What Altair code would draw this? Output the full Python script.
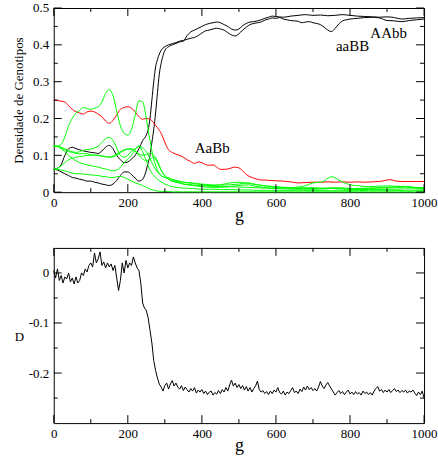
import altair as alt
import pandas as pd

FONT = "Liberation Serif"

# ---------------- top panel: genotype densities ----------------
aaBB_g = [0,10,20,30,40,50,60,70,80,90, 100,110,120,130,140,150,160,170,180,190,
          200,210,220,230,240,250,255,260,265,270, 275,280,285,290,300,310,320,330,340,350,
          360,370,380,390,400,410,420,430,440,450, 460,470,480,490,500,510,520,530,540,550,
          560,570,580,590,600,610,620,630,640,650, 660,670,680,690,700,710,720,730,740,750,
          760,770,780,790,800,820,840,860,880,900, 920,940,960,980,1000]
aaBB_v = [0.0625,0.065,0.075,0.1,0.118,0.122,0.118,0.115,0.112,0.11,
          0.108,0.107,0.105,0.112,0.122,0.127,0.118,0.1,0.088,0.08,
          0.082,0.09,0.1,0.118,0.14,0.155,0.17,0.2,0.25,0.3,
          0.34,0.36,0.375,0.385,0.395,0.4,0.403,0.406,0.41,0.412,
          0.415,0.418,0.42,0.425,0.432,0.438,0.44,0.443,0.445,0.443,
          0.44,0.433,0.427,0.424,0.43,0.44,0.448,0.455,0.458,0.46,
          0.462,0.467,0.47,0.473,0.472,0.474,0.47,0.468,0.466,0.465,
          0.464,0.46,0.462,0.463,0.46,0.458,0.455,0.448,0.44,0.436,
          0.445,0.457,0.465,0.468,0.47,0.472,0.474,0.475,0.473,0.466,
          0.465,0.463,0.466,0.468,0.47]

AAbb_g = [0,10,20,30,40,50,60,70,80,90, 100,110,120,130,140,150,160,170,180,190,
          200,210,220,230,240,250,255,260,265,270, 275,280,285,290,295,300,310,320,330,340,
          350,360,370,380,390,400,410,420,430,440, 450,460,470,480,490,500,510,520,530,540,
          550,560,570,580,590,600,620,640,660,680, 700,720,740,760,780,800,820,840,860,880,
          900,920,940,960,980,1000]
AAbb_v = [0.0625,0.06,0.055,0.05,0.045,0.04,0.038,0.035,0.033,0.03,
          0.03,0.027,0.025,0.022,0.02,0.018,0.022,0.032,0.045,0.055,
          0.055,0.048,0.038,0.03,0.035,0.06,0.08,0.1,0.135,0.17,
          0.215,0.27,0.32,0.35,0.37,0.385,0.395,0.4,0.404,0.408,
          0.41,0.425,0.435,0.44,0.445,0.45,0.455,0.458,0.46,0.462,
          0.46,0.455,0.45,0.443,0.44,0.443,0.452,0.458,0.462,0.463,
          0.465,0.468,0.472,0.475,0.478,0.477,0.475,0.478,0.48,0.482,
          0.48,0.481,0.479,0.48,0.482,0.48,0.478,0.477,0.476,0.475,
          0.476,0.474,0.47,0.472,0.473,0.474]

AaBb_g = [0,10,20,30,40,50,60,70,80,90, 100,110,120,130,140,150,160,170,180,190,
          200,210,220,230,240,250,260,270,280,290, 300,310,320,330,340,350,360,370,380,390,
          400,410,420,430,440,450,460,470,480,490, 500,510,520,530,540,550,560,570,580,600,
          620,640,660,680,700,720,740,760,780,800, 820,840,860,880,900,910,920,940,960,980,
          1000]
AaBb_v = [0.25,0.249,0.247,0.245,0.235,0.225,0.218,0.215,0.212,0.218,
          0.22,0.218,0.212,0.205,0.193,0.187,0.195,0.21,0.225,0.23,
          0.232,0.228,0.218,0.205,0.198,0.2,0.198,0.188,0.175,0.16,
          0.135,0.115,0.108,0.103,0.1,0.095,0.088,0.083,0.078,0.082,
          0.08,0.075,0.073,0.074,0.068,0.062,0.062,0.063,0.066,0.068,
          0.066,0.058,0.048,0.042,0.038,0.035,0.033,0.033,0.032,0.031,
          0.03,0.028,0.025,0.026,0.027,0.027,0.028,0.027,0.028,0.027,
          0.028,0.027,0.028,0.029,0.033,0.034,0.031,0.029,0.029,0.029,
          0.029]

green_g = [0,10,20,30,40,50,60,70,80,90, 100,110,120,130,140,150,160,170,180,190,
           200,210,220,230,240,250,260,270,280,290, 300,310,320,330,340,350,
           375,400,425,450,475,500,525,550,575,600, 625,650,675,700,725,750,775,800,825,850,
           875,900,925,950,975,1000]
green1_v = [0.125,0.125,0.13,0.15,0.18,0.2,0.215,0.222,0.23,0.227,
            0.225,0.228,0.232,0.245,0.268,0.278,0.262,0.22,0.18,0.16,
            0.155,0.17,0.21,0.248,0.245,0.2,0.14,0.09,0.06,0.045,
            0.04,0.036,0.033,0.03,0.028,0.027,
            0.025,0.022,0.02,0.019,0.02,0.022,0.025,0.02,0.017,0.015,
            0.013,0.012,0.012,0.012,0.011,0.012,0.012,0.01,0.01,0.011,
            0.012,0.013,0.015,0.016,0.013,0.012]
green2_v = [0.125,0.125,0.122,0.118,0.113,0.11,0.108,0.11,0.114,0.116,
            0.117,0.12,0.125,0.135,0.145,0.149,0.14,0.12,0.1,0.095,
            0.1,0.112,0.118,0.125,0.12,0.11,0.09,0.07,0.055,0.045,
            0.04,0.04,0.035,0.032,0.03,0.027,
            0.024,0.02,0.018,0.02,0.025,0.027,0.024,0.02,0.016,0.013,
            0.012,0.01,0.01,0.01,0.009,0.01,0.009,0.008,0.009,0.01,
            0.011,0.012,0.012,0.014,0.012,0.01]
green3_v = [0.125,0.124,0.12,0.115,0.11,0.108,0.105,0.104,0.105,0.104,
            0.102,0.1,0.1,0.098,0.096,0.095,0.096,0.1,0.107,0.113,
            0.117,0.118,0.112,0.1,0.09,0.085,0.09,0.095,0.08,0.06,
            0.045,0.035,0.03,0.027,0.025,0.022,
            0.02,0.017,0.016,0.015,0.015,0.014,0.013,0.012,0.011,0.01,
            0.011,0.013,0.016,0.025,0.028,0.042,0.03,0.02,0.017,0.015,
            0.016,0.017,0.016,0.015,0.012,0.01]
green4_v = [0.0625,0.065,0.072,0.08,0.088,0.092,0.095,0.097,0.098,0.1,
            0.1,0.101,0.1,0.098,0.097,0.095,0.098,0.104,0.11,0.115,
            0.117,0.115,0.11,0.104,0.1,0.102,0.106,0.1,0.085,0.06,
            0.045,0.035,0.03,0.027,0.025,0.022,
            0.018,0.015,0.013,0.013,0.015,0.018,0.02,0.015,0.012,0.01,
            0.009,0.008,0.008,0.008,0.009,0.01,0.009,0.008,0.007,0.007,
            0.007,0.008,0.008,0.009,0.009,0.008]
green5_v = [0.125,0.124,0.118,0.11,0.1,0.092,0.085,0.08,0.077,0.074,
            0.072,0.07,0.068,0.065,0.063,0.06,0.058,0.06,0.068,0.08,
            0.09,0.1,0.115,0.125,0.11,0.085,0.06,0.045,0.035,0.028,
            0.022,0.018,0.015,0.013,0.012,0.011,
            0.01,0.008,0.008,0.007,0.007,0.006,0.006,0.005,0.005,0.005,
            0.005,0.005,0.005,0.005,0.004,0.004,0.004,0.004,0.004,0.005,
            0.005,0.005,0.005,0.004,0.004,0.004]
green6_v = [0.0625,0.062,0.06,0.058,0.055,0.052,0.05,0.05,0.049,0.048,
            0.047,0.046,0.045,0.043,0.042,0.04,0.04,0.042,0.043,0.04,
            0.035,0.03,0.025,0.022,0.018,0.013,0.008,0.005,0.003,0.002,
            0.002,0.002,0.001,0.001,0.001,0.001,
            0.001,0.001,0.001,0.001,0.001,0.001,0.001,0.001,0.001,0.001,
            0.001,0.001,0.001,0.001,0.001,0.001,0.001,0.001,0.001,0.001,
            0.001,0.001,0.001,0.001,0.001,0.001]

label_names = ["AAbb", "aaBB", "AaBb"]
label_g = [855, 762, 381]
label_v = [0.418, 0.383, 0.105]

# ---------------- bottom panel: D ----------------
D_g = list(range(0, 1001, 5))
D_v = [0.005,-0.01,0.008,-0.015,-0.005,-0.02,-0.008,-0.012,0.0,-0.018,
       -0.01,-0.022,-0.008,-0.02,-0.015,0.0,-0.005,0.008,0.002,0.015,
       0.02,0.012,0.04,0.02,0.028,0.042,0.015,0.022,0.01,0.02,
       0.012,0.018,0.005,0.015,-0.01,-0.035,-0.015,0.02,0.0,0.025,
       0.01,0.02,0.015,0.032,0.02,0.01,0.005,-0.02,-0.06,-0.07,
       -0.075,-0.09,-0.115,-0.14,-0.175,-0.195,-0.21,-0.222,-0.228,-0.236,
       -0.225,-0.22,-0.232,-0.222,-0.215,-0.226,-0.22,-0.228,-0.232,-0.225,
       -0.235,
       -0.228,-0.233,-0.238,-0.231,-0.236,-0.229,-0.24,-0.234,-0.238,-0.233,
       -0.241,-0.236,-0.243,-0.238,-0.236,-0.244,-0.239,-0.242,-0.235,-0.241,
       -0.233,-0.238,-0.229,-0.236,-0.224,-0.214,-0.226,-0.22,-0.229,-0.223,
       -0.231,-0.225,-0.234,-0.227,-0.236,-0.229,-0.238,-0.231,-0.226,-0.216,
       -0.233,-0.238,-0.235,-0.241,-0.237,-0.243,-0.236,-0.241,-0.234,-0.238,
       -0.229,-0.239,-0.242,-0.236,-0.244,-0.238,-0.241,-0.235,-0.229,-0.239,
       -0.236,-0.241,-0.232,-0.237,-0.228,-0.234,-0.226,-0.233,-0.229,-0.235,
       -0.231,-0.236,-0.228,-0.217,-0.226,-0.231,-0.224,-0.219,-0.226,-0.232,
       -0.238,-0.244,-0.239,-0.235,-0.241,-0.237,-0.243,-0.238,-0.234,-0.242,
       -0.238,-0.243,-0.237,-0.242,-0.239,-0.244,-0.236,-0.241,-0.238,-0.243,
       -0.239,-0.244,-0.236,-0.231,-0.227,-0.236,-0.233,-0.239,-0.234,-0.238,
       -0.233,-0.239,-0.235,-0.231,-0.237,-0.234,-0.239,-0.235,-0.238,-0.234,
       -0.24,-0.236,-0.238,-0.234,-0.24,-0.245,-0.238,-0.243,-0.236,-0.25]

# ---------------- ticks ----------------
x_major = [0, 200, 400, 600, 800, 1000]
x_minor = [100, 300, 500, 700, 900]
y1_major = [0, 0.1, 0.2, 0.3, 0.4, 0.5]
y1_minor = [0.05, 0.15, 0.25, 0.35, 0.45]
y2_major = [-0.2, -0.1, 0]
y2_minor = [-0.25, -0.15, -0.05]

W = 372
H1 = 185
H2 = 176
MAJ = 8
MIN = 4

series_names = ["aaBB", "AAbb", "AaBb", "g1", "g2", "g3", "g4", "g5", "g6"]
series_colors = ["#000000", "#000000", "#ff0000"] + ["#00ff00"] * 6

frames = []
for name, gs, vs in [("aaBB", aaBB_g, aaBB_v), ("AAbb", AAbb_g, AAbb_v), ("AaBb", AaBb_g, AaBb_v),
                     ("g1", green_g, green1_v), ("g2", green_g, green2_v), ("g3", green_g, green3_v),
                     ("g4", green_g, green4_v), ("g5", green_g, green5_v), ("g6", green_g, green6_v)]:
    frames.append(pd.DataFrame({"g": gs, "v": vs, "series": name}))
top_df = pd.concat(frames, ignore_index=True)
lab_df = pd.DataFrame({"g": label_g, "v": label_v, "name": label_names})
d_df = pd.DataFrame({"g": D_g, "v": D_v})

x_scale = alt.Scale(domain=[0, 1000], nice=False, zero=False)
y1_scale = alt.Scale(domain=[0, 0.5], nice=False, zero=False)
y2_scale = alt.Scale(domain=[-0.3, 0.05], nice=False, zero=False)

y_label_expr = ("datum.value == 0 ? '0' : (datum.value < 0 ? '-' + format(-datum.value, '.1f') "
                ": format(datum.value, '.1f'))")
x_label_expr = "format(datum.value, 'd')"

def x_axis():
    return alt.Axis(values=x_major, ticks=False, domain=False, grid=False,
                    labelFont=FONT, labelFontSize=13, labelColor="black", labelPadding=4,
                    labelExpr=x_label_expr, labelFlush=False, labelOverlap=False,
                    title="g", titleFont=FONT, titleFontSize=18, titleFontWeight="normal",
                    titleColor="black", titleX=W / 2, titleY=23, titleAlign="center",
                    titleBaseline="middle")

def y_axis(values, title, h, angle):
    return alt.Axis(values=values, ticks=False, domain=False, grid=False,
                    labelFont=FONT, labelFontSize=13, labelColor="black", labelPadding=5,
                    labelExpr=y_label_expr, labelOverlap=False, labelFlush=False,
                    title=title, titleFont=FONT, titleFontSize=13, titleFontWeight="normal",
                    titleColor="black", titleX=-35, titleY=h, titleAngle=angle,
                    titleAlign="center", titleBaseline="middle")

def tick_layers(yscale, yaxis, ymaj, ymin, h):
    layers = []
    for vals, ln in [(x_major, MAJ), (x_minor, MIN)]:
        df = pd.DataFrame({"g": vals})
        base = alt.Chart(df).mark_rule(color="black", strokeWidth=1)
        layers.append(base.encode(x=alt.X("g:Q", scale=x_scale, axis=x_axis()),
                                  y=alt.value(h), y2=alt.value(h - ln)))
        layers.append(base.encode(x=alt.X("g:Q", scale=x_scale, axis=x_axis()),
                                  y=alt.value(0), y2=alt.value(ln)))
    for vals, ln in [(ymaj, MAJ), (ymin, MIN)]:
        df = pd.DataFrame({"v": vals})
        base = alt.Chart(df).mark_rule(color="black", strokeWidth=1)
        layers.append(base.encode(y=alt.Y("v:Q", scale=yscale, axis=yaxis),
                                  x=alt.value(0), x2=alt.value(ln)))
        layers.append(base.encode(y=alt.Y("v:Q", scale=yscale, axis=yaxis),
                                  x=alt.value(W), x2=alt.value(W - ln)))
    return layers

y1_axis = y_axis(y1_major, "Densidade de Genotipos", H1 / 2, 270)
y2_axis = y_axis(y2_major, "D", 89, 0)

lines_top = alt.Chart(top_df).mark_line(strokeWidth=1, interpolate="monotone").encode(
    x=alt.X("g:Q", scale=x_scale, axis=x_axis()),
    y=alt.Y("v:Q", scale=y1_scale, axis=y1_axis),
    color=alt.Color("series:N", scale=alt.Scale(domain=series_names, range=series_colors), legend=None),
    detail="series:N",
)
labels_top = alt.Chart(lab_df).mark_text(font=FONT, fontSize=15, color="black", align="left",
                                         baseline="alphabetic").encode(
    x=alt.X("g:Q", scale=x_scale, axis=x_axis()),
    y=alt.Y("v:Q", scale=y1_scale, axis=y1_axis),
    text="name:N",
)
top = alt.layer(lines_top, labels_top, *tick_layers(y1_scale, y1_axis, y1_major, y1_minor, H1)).properties(
    width=W, height=H1)

line_d = alt.Chart(d_df).mark_line(strokeWidth=1, color="black").encode(
    x=alt.X("g:Q", scale=x_scale, axis=x_axis()),
    y=alt.Y("v:Q", scale=y2_scale, axis=y2_axis),
)
bottom = alt.layer(line_d, *tick_layers(y2_scale, y2_axis, y2_major, y2_minor, H2)).properties(
    width=W, height=H2)

chart = alt.vconcat(top, bottom, spacing=56, bounds="flush").properties(
    padding={"left": 12, "top": 0, "right": 0, "bottom": 0},
    background="white",
).configure_view(stroke="black", strokeWidth=1).configure_axis(
    labelFont=FONT, titleFont=FONT, labelColor="black", titleColor="black",
    labelFontSize=13, titleFontWeight="normal",
)

chart.save("out.html", embed_options={"renderer": "svg", "actions": False})
